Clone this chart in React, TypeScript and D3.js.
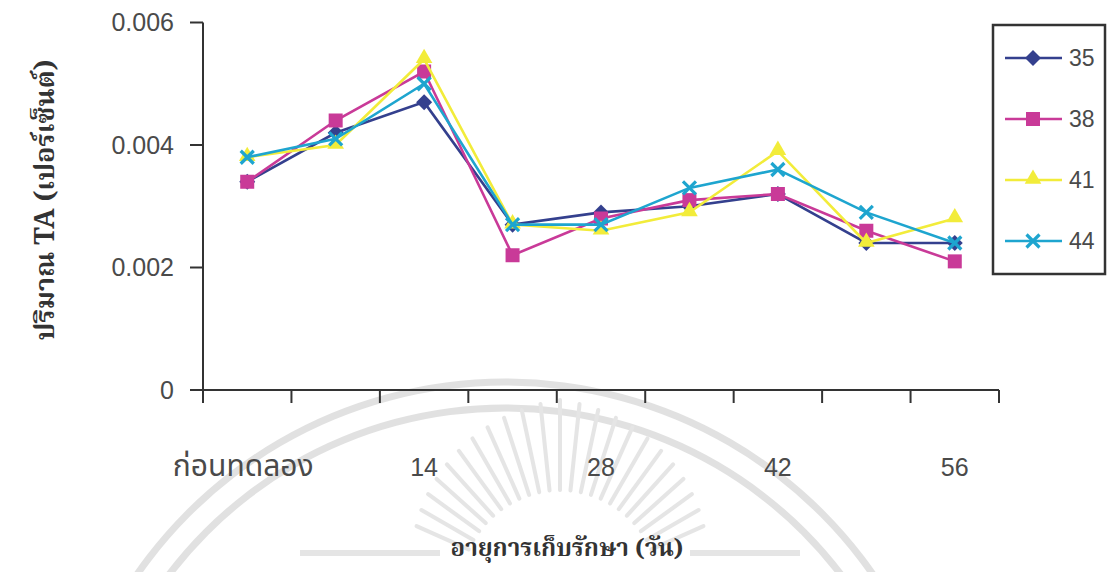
import React from "react";
import * as d3 from "d3";

// Storage time points (days); only every other one carries a label
const categories = ["ก่อนทดลอง", "7", "14", "21", "28", "35", "42", "49", "56"];
const tickLabels = ["ก่อนทดลอง", "", "14", "", "28", "", "42", "", "56"];

// Titratable acidity (%) per storage temperature series
const seriesNames = ["35", "38", "41", "44"];
const s35 = [0.0034, 0.0042, 0.0047, 0.0027, 0.0029, 0.003, 0.0032, 0.0024, 0.0024];
const s38 = [0.0034, 0.0044, 0.0052, 0.0022, 0.0028, 0.0031, 0.0032, 0.0026, 0.0021];
const s41 = [0.0038, 0.004, 0.0054, 0.0027, 0.0026, 0.0029, 0.0039, 0.0024, 0.0028];
const s44 = [0.0038, 0.0041, 0.005, 0.0027, 0.0027, 0.0033, 0.0036, 0.0029, 0.0024];
const seriesValues = [s35, s38, s41, s44];
const seriesColors = ["#34408e", "#c93a98", "#f2ec3a", "#1ea5cf"];
const seriesMarkers = ["diamond", "square", "triangle", "cross"];

const yTicks = [0, 0.002, 0.004, 0.006];

const W = 1110;
const H = 572;
const plot = { left: 203, right: 999, top: 22.5, bottom: 390 };

const x = d3.scaleBand<string>().domain(categories).range([plot.left, plot.right]).padding(0);
const y = d3.scaleLinear().domain([0, 0.006]).range([plot.bottom, plot.top]);
const cx = (c: string) => (x(c) ?? 0) + x.bandwidth() / 2;

const tickFont = "'Liberation Sans', Arial, 'Noto Sans Thai', sans-serif";
const titleFont = "'Noto Serif Thai', 'Noto Sans Thai', 'Liberation Serif', serif";

function Marker({ kind, color, px, py }: { kind: string; color: string; px: number; py: number }) {
  if (kind === "diamond") {
    const r = 8;
    return <path d={`M${px},${py - r}L${px + r},${py}L${px},${py + r}L${px - r},${py}Z`} fill={color} />;
  }
  if (kind === "square") {
    return <rect x={px - 7} y={py - 7} width={14} height={14} fill={color} />;
  }
  if (kind === "triangle") {
    const p = d3.symbol(d3.symbolTriangle, 120)();
    return <path d={p ?? ""} transform={`translate(${px},${py - 1})`} fill={color} />;
  }
  const r = 6.5;
  return (
    <g stroke={color} strokeWidth={3.2} strokeLinecap="butt">
      <line x1={px - r} y1={py - r} x2={px + r} y2={py + r} />
      <line x1={px - r} y1={py + r} x2={px + r} y2={py - r} />
    </g>
  );
}

// Faint seal in the page background
function Seal() {
  const c = { x: 505, y: 830 };
  const arc = (r: number) =>
    d3.arc()({ innerRadius: r - 3.5, outerRadius: r + 3.5, startAngle: -1.05, endAngle: 1.05 }) ?? "";
  const rays = d3.range(-66, 67, 6).map((deg) => {
    const a = (deg * Math.PI) / 180;
    const o = { x: 560, y: 590 };
    const len = 190 - Math.abs(deg) * 0.5;
    return {
      x1: o.x + Math.sin(a) * 100,
      y1: o.y - Math.cos(a) * 100,
      x2: o.x + Math.sin(a) * len,
      y2: o.y - Math.cos(a) * len,
    };
  });
  return (
    <g opacity={0.5}>
      <path d={arc(448)} transform={`translate(${c.x},${c.y})`} fill="#c4c4c4" />
      <path d={arc(422)} transform={`translate(${c.x},${c.y})`} fill="#c4c4c4" />
      {rays.map((r, i) => (
        <line key={i} {...r} stroke="#cccccc" strokeWidth={4} strokeLinecap="round" />
      ))}
      <line x1={300} y1={553} x2={440} y2={553} stroke="#cccccc" strokeWidth={6} />
      <line x1={690} y1={553} x2={800} y2={553} stroke="#cccccc" strokeWidth={6} />
    </g>
  );
}

export default function App() {
  const line = d3
    .line<number>()
    .x((_, i) => cx(categories[i]))
    .y((v) => y(v));

  const legendRows = seriesNames.map((n, i) => ({ n, i, ly: 58 + i * 61 }));

  return (
    <svg
      width={W}
      height={H}
      style={{ position: "absolute", left: 0, top: 0, background: "#fff" }}
    >
      <rect width={W} height={H} fill="#fff" />
      <Seal />

      {/* y axis */}
      <line x1={plot.left} y1={plot.top} x2={plot.left} y2={plot.bottom + 13} stroke="#333" strokeWidth={2} />
      {yTicks.map((t) => (
        <g key={t}>
          <line x1={plot.left - 13} x2={plot.left} y1={y(t)} y2={y(t)} stroke="#333" strokeWidth={2} />
          <text
            x={174}
            y={y(t)}
            dy="0.35em"
            textAnchor="end"
            fontFamily={tickFont}
            fontSize={25}
            fill="#4a4a4a"
          >
            {t === 0 ? "0" : d3.format(".3f")(t)}
          </text>
        </g>
      ))}

      {/* x axis */}
      <line x1={plot.left} y1={plot.bottom} x2={plot.right} y2={plot.bottom} stroke="#333" strokeWidth={2} />
      {categories.map((c) => (
        <line
          key={c}
          x1={(x(c) ?? 0) + x.bandwidth()}
          x2={(x(c) ?? 0) + x.bandwidth()}
          y1={plot.bottom}
          y2={plot.bottom + 13}
          stroke="#333"
          strokeWidth={2}
        />
      ))}
      {categories.map((c, i) =>
        tickLabels[i] ? (
          <text
            key={c}
            x={i === 0 ? cx(c) - 4 : cx(c)}
            y={476}
            textAnchor="middle"
            fontFamily={tickFont}
            fontSize={i === 0 ? 30 : 25}
            fill="#4a4a4a"
          >
            {tickLabels[i]}
          </text>
        ) : null
      )}

      {/* series */}
      {seriesValues.map((vals, si) => (
        <g key={seriesNames[si]}>
          <path d={line(vals) ?? ""} fill="none" stroke={seriesColors[si]} strokeWidth={2.6} />
          {vals.map((v, i) => (
            <Marker key={i} kind={seriesMarkers[si]} color={seriesColors[si]} px={cx(categories[i])} py={y(v)} />
          ))}
        </g>
      ))}

      {/* legend */}
      <rect x={993} y={25} width={112} height={249} fill="none" stroke="#333" strokeWidth={2.5} />
      {legendRows.map(({ n, i, ly }) => (
        <g key={n}>
          <line x1={1005} x2={1062} y1={ly} y2={ly} stroke={seriesColors[i]} strokeWidth={2.6} />
          <Marker kind={seriesMarkers[i]} color={seriesColors[i]} px={1033} py={ly} />
          <text x={1069} y={ly} dy="0.36em" fontFamily={tickFont} fontSize={23} fill="#4a4a4a">
            {n}
          </text>
        </g>
      ))}

      {/* axis titles */}
      <text
        transform={`translate(45,200) rotate(-90)`}
        textAnchor="middle"
        dy="0.35em"
        fontFamily={titleFont}
        fontWeight="bold"
        fontSize={27}
        fill="#333"
      >
        ปริมาณ TA (เปอร์เซ็นต์)
      </text>
      <text
        x={567}
        y={548}
        textAnchor="middle"
        dy="0.35em"
        fontFamily={titleFont}
        fontWeight="bold"
        fontSize={24}
        fill="#333"
      >
        อายุการเก็บรักษา (วัน)
      </text>
    </svg>
  );
}
